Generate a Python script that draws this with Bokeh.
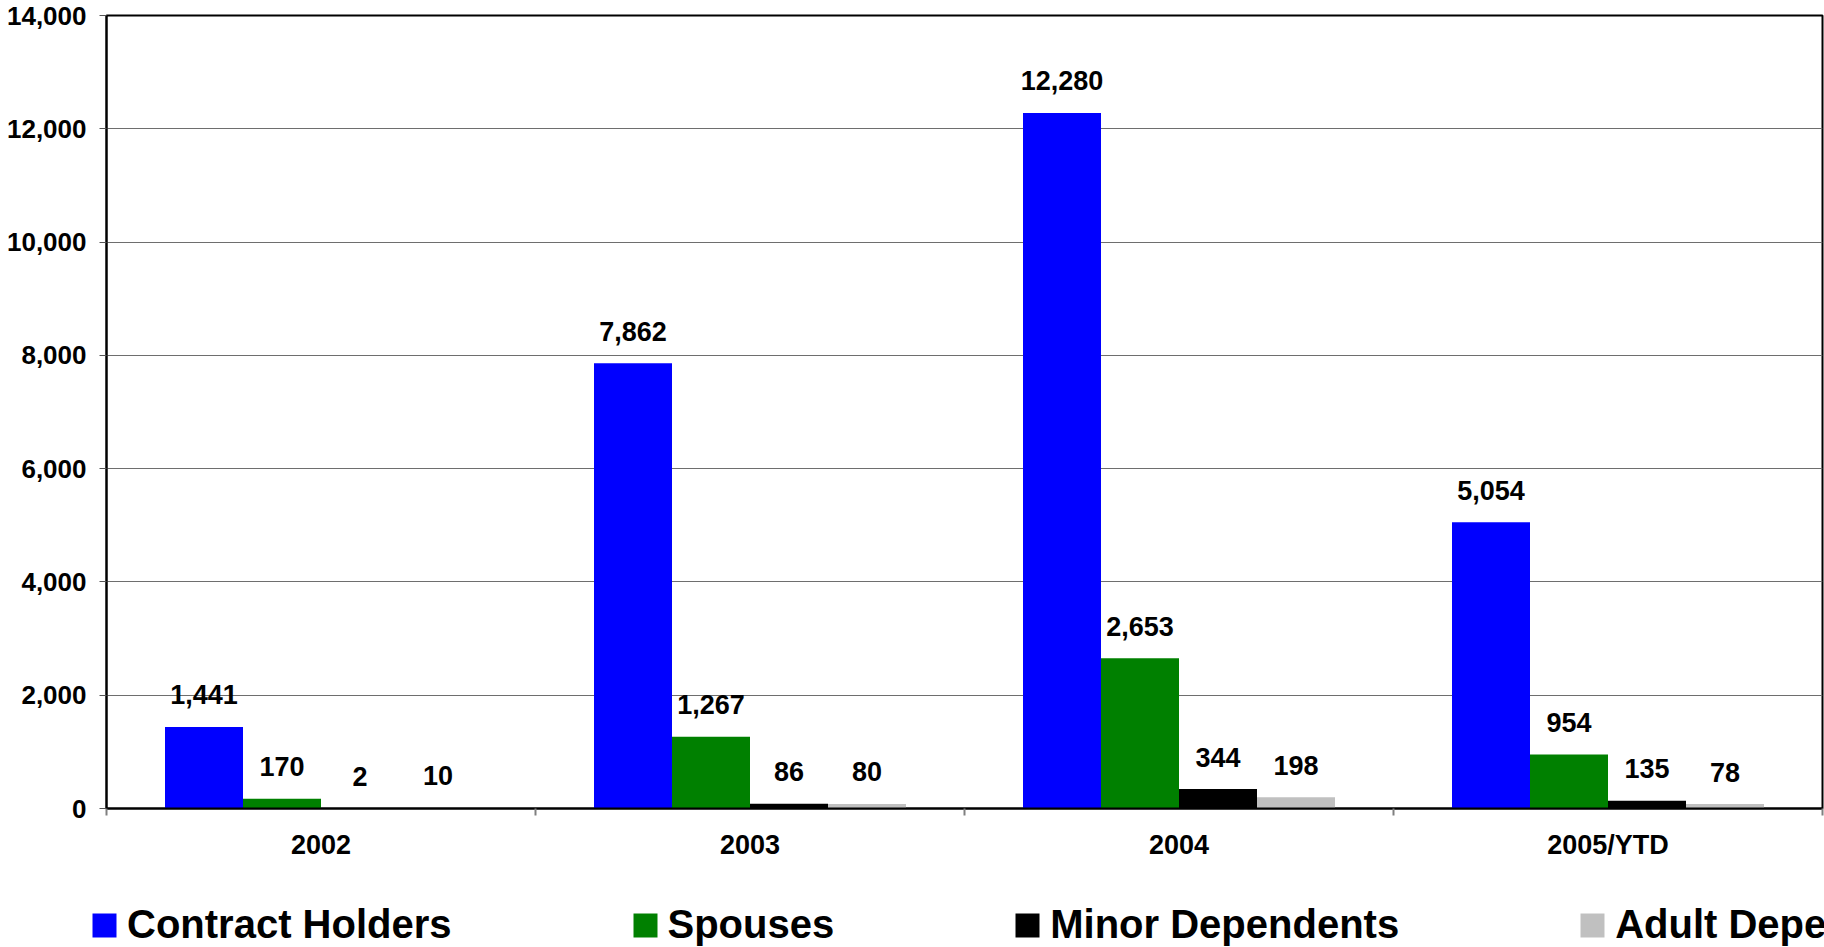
import numpy as np
from bokeh.plotting import figure
from bokeh.models import (Range1d, FixedTicker, NumeralTickFormatter, Legend,
                          LegendItem, ColumnDataSource)
from bokeh.core.properties import value
from bokeh.embed import file_html
from bokeh.resources import INLINE

# ---- data ----
years = ["2002", "2003", "2004", "2005/YTD"]
series_names = ["Contract Holders", "Spouses", "Minor Dependents", "Adult Dependents"]
contract_holders = [1441, 7862, 12280, 5054]
spouses = [170, 1267, 2653, 954]
minor_dependents = [2, 86, 344, 135]
adult_dependents = [10, 80, 198, 78]
series_values = [contract_holders, spouses, minor_dependents, adult_dependents]
colors = ["#0000FF", "#008000", "#000000", "#C0C0C0"]
y_ticks = [0, 2000, 4000, 6000, 8000, 10000, 12000, 14000]

FONT = "Liberation Sans"
W = 1824
H_MAIN = 880
H_LEG = 67

p = figure(width=W, height=H_MAIN, output_backend="svg", toolbar_location=None,
           x_range=Range1d(0, len(years)), y_range=Range1d(0, 14000),
           min_border_left=106, min_border_right=2, min_border_top=15,
           min_border_bottom=72, background_fill_color="white",
           border_fill_color="white")

n = len(series_names)
bw = 1.0 / (n + 1.5)
centers = np.arange(len(years)) + 0.5

sources = []
for i, (name, vals, col) in enumerate(zip(series_names, series_values, colors)):
    xs = centers + (i - (n - 1) / 2) * bw
    src = ColumnDataSource(dict(x=xs, top=vals, label=[f"{v:,}" for v in vals]))
    sources.append(src)
    p.vbar(x="x", top="top", bottom=0, width=bw, fill_color=col,
           line_color=None, source=src)
    p.text(x="x", y="top", text="label", source=src, text_font=value(FONT),
           text_font_style="bold", text_font_size="27px", text_align="center",
           text_baseline="alphabetic", y_offset=-32, text_color="black")

# grid
p.xgrid.visible = False
p.ygrid.ticker = FixedTicker(ticks=y_ticks)
p.ygrid.grid_line_color = "#6e6e6e"
p.ygrid.grid_line_width = 1

p.outline_line_color = "black"
p.outline_line_width = 2

# y axis
p.yaxis.ticker = FixedTicker(ticks=y_ticks)
p.yaxis.formatter = NumeralTickFormatter(format="0,0")
p.yaxis.axis_line_color = "black"
p.yaxis.axis_line_width = 2
p.yaxis.major_tick_out = 7
p.yaxis.major_tick_in = 0
p.yaxis.major_tick_line_color = "#555555"
p.yaxis.minor_tick_line_color = None
p.yaxis.major_label_standoff = 13
p.yaxis.major_label_text_font = FONT
p.yaxis.major_label_text_font_style = "bold"
p.yaxis.major_label_text_font_size = "26px"
p.yaxis.major_label_text_color = "black"

# x axis
p.xaxis.ticker = FixedTicker(ticks=list(centers),
                             minor_ticks=list(range(len(years) + 1)))
p.xaxis.major_label_overrides = {float(c): y for c, y in zip(centers, years)}
p.xaxis.major_tick_line_color = None
p.xaxis.major_tick_out = 7
p.xaxis.major_tick_in = 0
p.xaxis.minor_tick_line_color = "#808080"
p.xaxis.minor_tick_line_width = 2
p.xaxis.minor_tick_out = 7
p.xaxis.minor_tick_in = 0
p.xaxis.axis_line_color = "black"
p.xaxis.axis_line_width = 2
p.xaxis.major_label_standoff = 14
p.xaxis.major_label_text_font = FONT
p.xaxis.major_label_text_font_style = "bold"
p.xaxis.major_label_text_font_size = "27px"
p.xaxis.major_label_text_color = "black"

# ---- legend strip ----
lg = figure(width=W, height=H_LEG, output_backend="svg", toolbar_location=None,
            x_range=Range1d(0, 1), y_range=Range1d(0, 1),
            x_axis_location=None, y_axis_location=None,
            min_border=0, outline_line_color=None,
            background_fill_color="white", border_fill_color="white")
lg.grid.visible = False
items = []
for src, name, col in zip(sources, series_names, colors):
    r = lg.vbar(x="x", top="top", bottom=0, width=bw, fill_color=col,
                line_color=None, source=src, visible=False)
    items.append(LegendItem(label=name, renderers=[r]))

legend = Legend(items=items, orientation="horizontal", location=(89, 0),
                spacing=178, padding=0, margin=0, glyph_width=30, glyph_height=30,
                label_standoff=8, label_text_font=FONT,
                label_text_font_style="bold", label_text_font_size="40px",
                label_text_color="black", inactive_fill_alpha=0,
                border_line_color=None, background_fill_alpha=0)
lg.add_layout(legend, "center")

open("out.html", "w").write(file_html([p, lg], INLINE))
